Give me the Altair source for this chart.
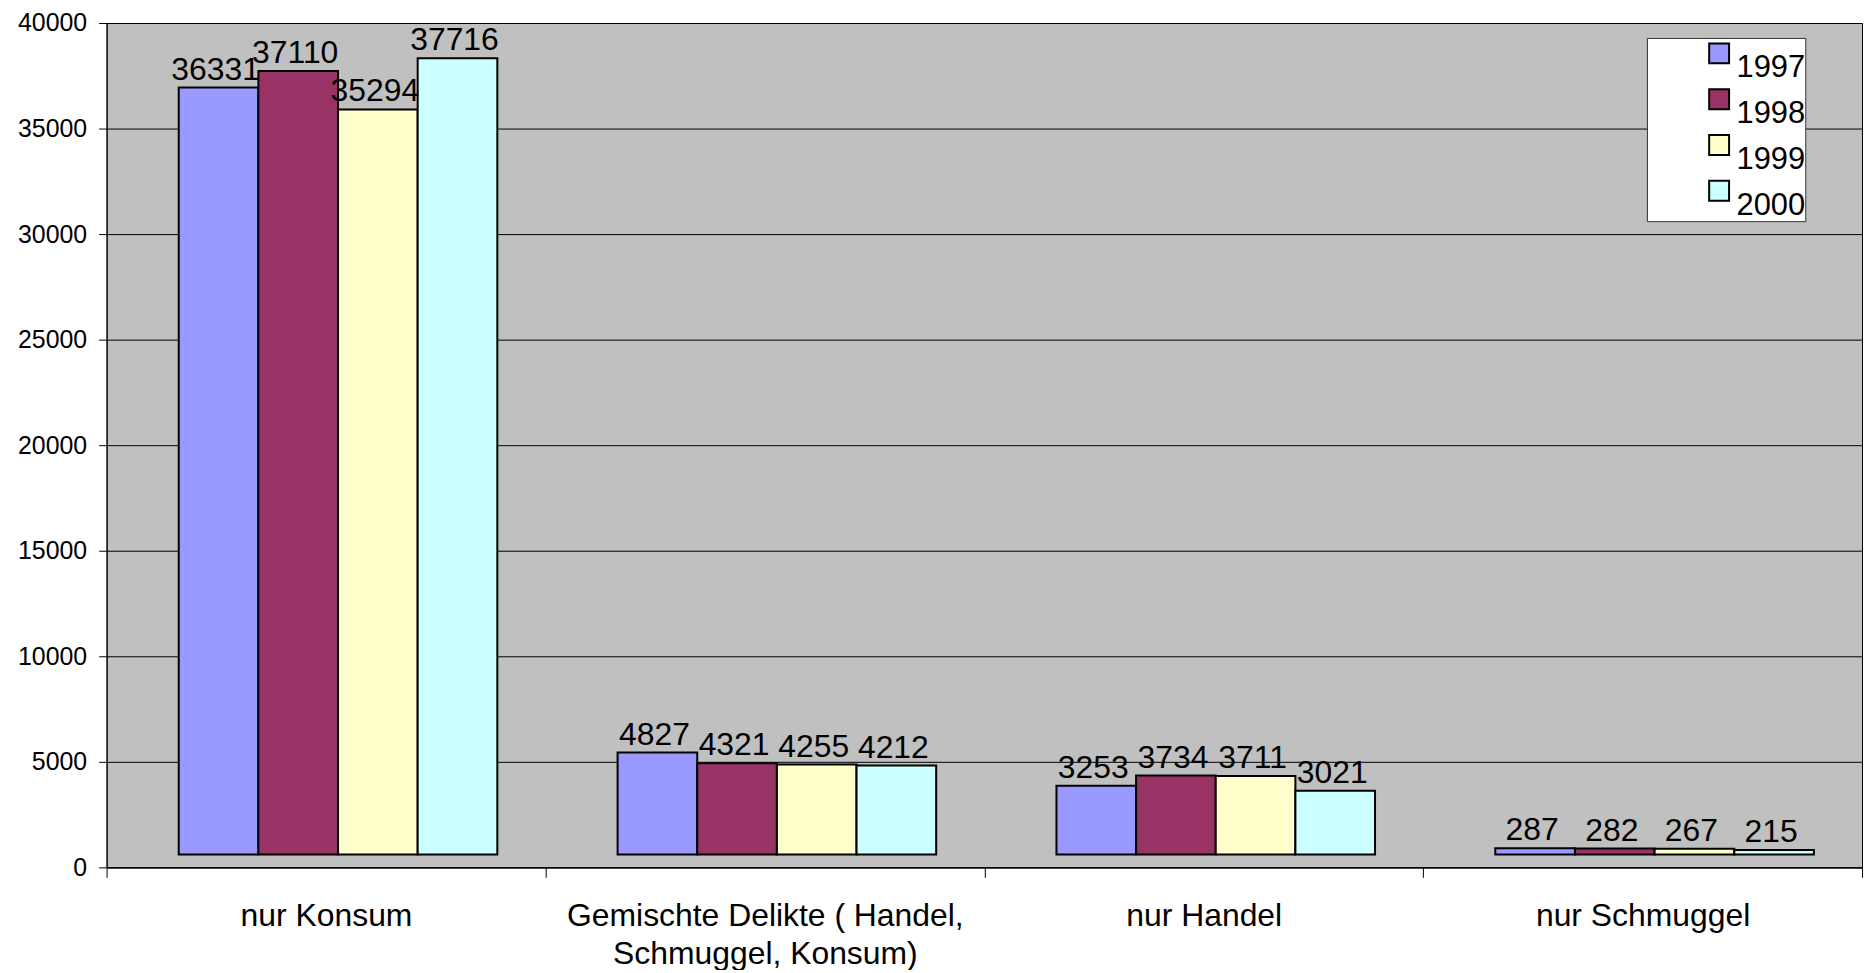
import altair as alt
import pandas as pd

categories = ["nur Konsum", "Gemischte Delikte ( Handel, Schmuggel, Konsum)", "nur Handel", "nur Schmuggel"]
years = ["1997", "1998", "1999", "2000"]
v1997 = [36331, 4827, 3253, 287]
v1998 = [37110, 4321, 3734, 282]
v1999 = [35294, 4255, 3711, 267]
v2000 = [37716, 4212, 3021, 215]
colors = ["#9999FF", "#993366", "#FFFFCC", "#CCFFFF"]
y_ticks = [0, 5000, 10000, 15000, 20000, 25000, 30000, 35000, 40000]

rows = []
for yr, vals in zip(years, [v1997, v1998, v1999, v2000]):
    for c, v in zip(categories, vals):
        rows.append({"Kategorie": c, "Jahr": yr, "Wert": v})
df = pd.DataFrame(rows)

FONT = "Liberation Sans"

label_expr = ("datum.label == 'Gemischte Delikte ( Handel, Schmuggel, Konsum)' ? "
              "['Gemischte Delikte ( Handel,', 'Schmuggel, Konsum)'] : datum.label")

x_enc = alt.X(
    "Kategorie:N", sort=categories,
    scale=alt.Scale(paddingInner=0, paddingOuter=0),
    axis=alt.Axis(title=None, labelAngle=0, tickBand="extent", tickSize=10,
                  labelPadding=23, labelFontSize=32, labelLineHeight=39,
                  labelLimit=1000, labelOverlap=False,
                  labelExpr=label_expr, labelFont=FONT, labelColor="black",
                  labelBaseline="top", domainColor="black", tickColor="black",
                  domainWidth=1, tickWidth=1),
)
xoff_enc = alt.XOffset("Jahr:N", sort=years,
                       scale=alt.Scale(paddingInner=0, paddingOuter=0.755, align=0.6))
y_enc = alt.Y(
    "Wert:Q", scale=alt.Scale(domain=[0, 40000], nice=False),
    axis=alt.Axis(title=None, values=y_ticks, format="d", grid=True,
                  gridColor="black", gridWidth=1, tickSize=8, labelPadding=12,
                  labelFontSize=25, labelFont=FONT, labelColor="black",
                  domainColor="black", tickColor="black"),
)
color_enc = alt.Color(
    "Jahr:N", sort=years, scale=alt.Scale(domain=years, range=colors),
    legend=alt.Legend(title="\u00a0\u00a0\u00a0\u00a0\u00a0", titleOrient="right",
                      titleFontSize=31, titleFont=FONT, titlePadding=0,
                      orient="none", legendX=1547, legendY=15,
                      fillColor="white", strokeColor="#333333", padding=0,
                      symbolOffset=57, symbolType="square", symbolSize=400,
                      symbolStrokeColor="black", symbolStrokeWidth=2,
                      symbolOpacity=1, labelFontSize=31, labelFont=FONT,
                      labelColor="black", labelBaseline="top", labelOffset=2,
                      rowPadding=-20),
)

bars = alt.Chart(df).mark_bar(stroke="black", strokeWidth=2, yOffset=-13).encode(
    x=x_enc, xOffset=xoff_enc, y=y_enc, color=color_enc
)
labels = alt.Chart(df).mark_text(baseline="alphabetic", dy=-21, dx=-3, fontSize=32,
                                 font=FONT, color="black").encode(
    x=x_enc, xOffset=xoff_enc, y=y_enc, text=alt.Text("Wert:Q", format="d")
)

chart = alt.layer(bars, labels).properties(
    width=1763, height=848,
    autosize=alt.AutoSizeParams(type="none"),
    padding={"left": 99, "top": 13, "right": 2, "bottom": 101},
    background="white",
).configure_view(fill="#C0C0C0", stroke="black", strokeWidth=1)

chart.save("out.html", embed_options={"renderer": "svg", "actions": False})
